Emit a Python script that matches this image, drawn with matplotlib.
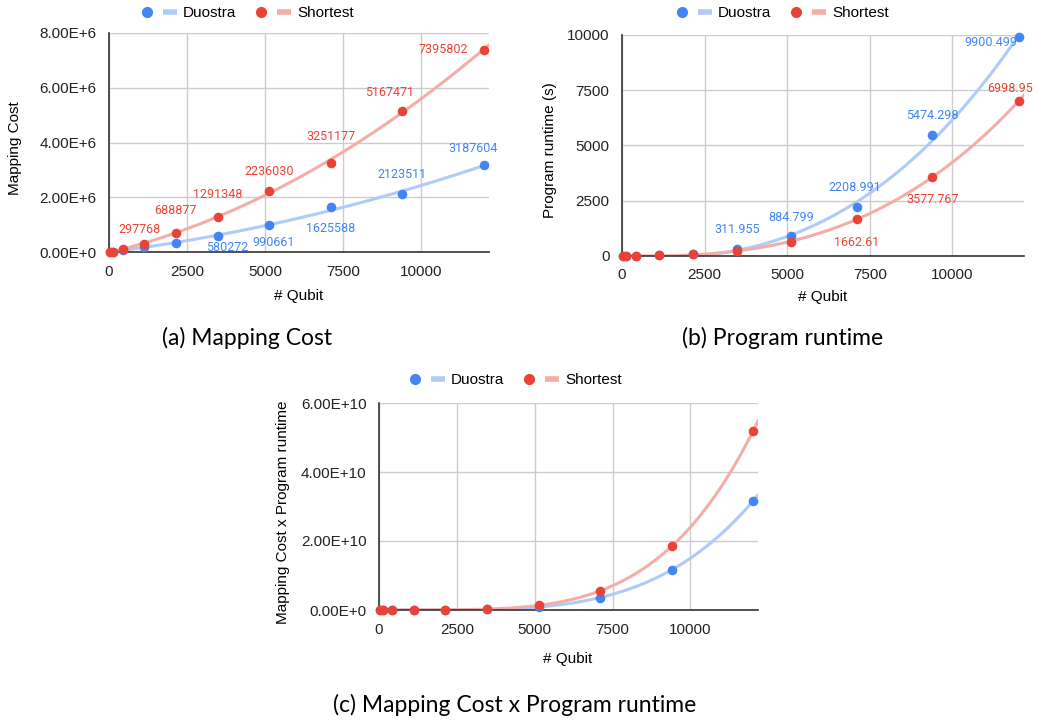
import numpy as np
import matplotlib
matplotlib.use("Agg")
import matplotlib.pyplot as plt
from matplotlib.lines import Line2D
from matplotlib.legend_handler import HandlerTuple

# ---- data ----
qubits = [27, 127, 433, 1121, 2135, 3475, 5130, 7100, 9393, 12005]

cost_duostra = [800, 8000, 55000, 175000, 340000, 580272, 990661, 1625588, 2123511, 3187604]
cost_shortest = [1200, 12000, 97000, 297768, 688877, 1291348, 2236030, 3251177, 5167471, 7395802]

runtime_duostra = [0.3, 2, 8, 25, 80, 311.955, 884.799, 2208.991, 5474.298, 9900.499]
runtime_shortest = [0.2, 2, 10, 30, 70, 210, 650, 1662.61, 3577.767, 6998.95]

# product panel = mapping cost x runtime
prod_duostra = [c * r for c, r in zip(cost_duostra, runtime_duostra)]
prod_shortest = [c * r for c, r in zip(cost_shortest, runtime_shortest)]

cost_ticks = [0, 2e6, 4e6, 6e6, 8e6]
cost_ticklabels = ["0.00E+0", "2.00E+6", "4.00E+6", "6.00E+6", "8.00E+6"]
runtime_ticks = [0, 2500, 5000, 7500, 10000]
runtime_ticklabels = ["0", "2500", "5000", "7500", "10000"]
prod_ticks = [0, 2e10, 4e10, 6e10]
prod_ticklabels = ["0.00E+0", "2.00E+10", "4.00E+10", "6.00E+10"]
x_ticks = [0, 2500, 5000, 7500, 10000]

# labels: (index, text) and offset in points (style only)
cost_duostra_labels = [(5, "580272"), (6, "990661"), (7, "1625588"), (8, "2123511"), (9, "3187604")]
cost_duostra_offsets = [(7, -8), (3, -13), (0, -15), (0, 14), (-8, 12)]
cost_shortest_labels = [(3, "297768"), (4, "688877"), (5, "1291348"), (6, "2236030"),
                        (7, "3251177"), (8, "5167471"), (9, "7395802")]
cost_shortest_offsets = [(-3, 10), (0, 16), (0, 16), (0, 14), (0, 19), (-9, 13), (-29, 0)]

rt_duostra_labels = [(5, "311.955"), (6, "884.799"), (7, "2208.991"), (8, "5474.298"), (9, "9900.499")]
rt_duostra_offsets = [(0, 14), (0, 14), (-1, 14), (0, 14), (-20, -4)]
rt_shortest_labels = [(7, "1662.61"), (8, "3577.767"), (9, "6998.95")]
rt_shortest_offsets = [(0, -17), (0, -16), (-6, 9)]

BLUE = "#4285F4"
RED = "#EA4335"
BLUE_LINE = "#AFCBFA"
RED_LINE = "#F5ADA7"
W, H = 1044, 722

plt.rcParams["font.family"] = ["Liberation Sans", "DejaVu Sans"]

fig = plt.figure(figsize=(W / 100, H / 100), dpi=100)


def px_rect(left, top, right, bottom):
    return [left / W, 1 - bottom / H, (right - left) / W, (bottom - top) / H]


def draw_panel(ax, ys_d, ys_s, deg, ylim, yticks, yticklabels, xmax=12170):
    x = np.array(qubits, dtype=float)
    xs = np.linspace(0, xmax, 300)
    fit_d = np.polyval(np.polyfit(x, ys_d, deg), xs)
    fit_s = np.polyval(np.polyfit(x, ys_s, deg), xs)
    ax.plot(xs, fit_d, color=BLUE_LINE, lw=2.2, zorder=2, clip_on=True)
    ax.plot(xs, fit_s, color=RED_LINE, lw=2.2, zorder=2, clip_on=True)
    ax.scatter(x, ys_d, s=48, color=BLUE, zorder=3, clip_on=False, linewidths=0)
    ax.scatter(x, ys_s, s=48, color=RED, zorder=4, clip_on=False, linewidths=0)
    ax.set_xlim(0, xmax)
    ax.set_ylim(*ylim)
    ax.set_xticks(x_ticks)
    ax.set_xticklabels([str(t) for t in x_ticks])
    ax.set_yticks(yticks)
    ax.set_yticklabels(yticklabels)
    ax.tick_params(length=0, labelsize=11, colors="#222222")
    ax.tick_params(axis="x", pad=9)
    ax.tick_params(axis="y", pad=9)
    ax.grid(True, color="#cccccc", lw=1)
    ax.set_axisbelow(True)
    for s in ["top", "right"]:
        ax.spines[s].set_visible(False)
    for s in ["left", "bottom"]:
        ax.spines[s].set_color("#333333")
        ax.spines[s].set_linewidth(1.2)


def add_labels(ax, ys, labels, offsets, color):
    for (i, txt), off in zip(labels, offsets):
        ax.annotate(txt, (qubits[i], ys[i]), xytext=off, textcoords="offset points",
                    ha="center", va="center", fontsize=9, color=color,
                    family=["Roboto", "DejaVu Sans"], zorder=5)


def add_legend(cx, cy):
    hd = (Line2D([], [], ls="", marker="o", ms=7, color=BLUE),
          Line2D([], [], lw=4, color=BLUE_LINE, solid_capstyle="butt"))
    hs = (Line2D([], [], ls="", marker="o", ms=7, color=RED),
          Line2D([], [], lw=4, color=RED_LINE, solid_capstyle="butt"))
    fig.legend([hd, hs], ["Duostra", "Shortest"], ncol=2, loc="center",
               bbox_to_anchor=(cx / W, 1 - cy / H), frameon=False, fontsize=11,
               handler_map={tuple: HandlerTuple(ndivide=None, pad=0.6)},
               handlelength=2.4, handletextpad=0.4, columnspacing=1.2)


# ---- (a) Mapping cost ----
ax1 = fig.add_axes(px_rect(109, 33, 489, 252))
draw_panel(ax1, cost_duostra, cost_shortest, 2, (0, 8e6), cost_ticks, cost_ticklabels)
add_labels(ax1, cost_duostra, cost_duostra_labels, cost_duostra_offsets, BLUE)
add_labels(ax1, cost_shortest, cost_shortest_labels, cost_shortest_offsets, RED)
add_legend(247, 13)
fig.text(15 / W, 1 - 148 / H, "Mapping Cost", rotation=90, ha="center", va="center", fontsize=11)
fig.text(299 / W, 1 - 296 / H, "# Qubit", ha="center", va="center", fontsize=11)

# ---- (b) Program runtime ----
ax2 = fig.add_axes(px_rect(622, 35, 1024, 256))
draw_panel(ax2, runtime_duostra, runtime_shortest, 3, (0, 10000), runtime_ticks, runtime_ticklabels)
add_labels(ax2, runtime_duostra, rt_duostra_labels, rt_duostra_offsets, BLUE)
add_labels(ax2, runtime_shortest, rt_shortest_labels, rt_shortest_offsets, RED)
add_legend(782, 13)
fig.text(550 / W, 1 - 150 / H, "Program runtime (s)", rotation=90, ha="center", va="center", fontsize=11)
fig.text(823 / W, 1 - 297 / H, "# Qubit", ha="center", va="center", fontsize=11)

# ---- (c) Product ----
ax3 = fig.add_axes(px_rect(379, 403, 758, 610))
draw_panel(ax3, prod_duostra, prod_shortest, 4, (0, 6e10), prod_ticks, prod_ticklabels)
add_legend(515, 380)
fig.text(283 / W, 1 - 512 / H, "Mapping Cost x Program runtime", rotation=90, ha="center", va="center",
         fontsize=11)
fig.text(568 / W, 1 - 659 / H, "# Qubit", ha="center", va="center", fontsize=11)

# ---- captions ----
cap_font = ["Lato", "DejaVu Sans"]
fig.text(247 / W, 1 - 338 / H, "(a) Mapping Cost", ha="center", va="center", fontsize=16.5, family=cap_font)
fig.text(783 / W, 1 - 338 / H, "(b) Program runtime", ha="center", va="center", fontsize=16.5, family=cap_font)
fig.text(515 / W, 1 - 705 / H, "(c) Mapping Cost x Program runtime", ha="center", va="center",
         fontsize=16.5, family=cap_font)

fig.savefig("out.png", dpi=100)
